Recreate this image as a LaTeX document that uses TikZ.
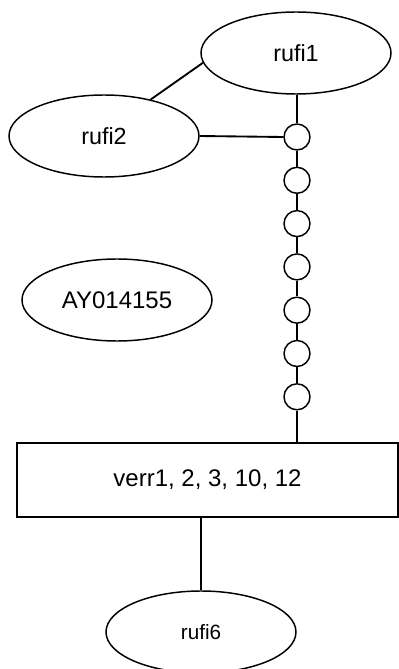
\documentclass[tikz,border=0pt]{standalone}
\usepackage{fontspec}
\setmainfont{Liberation Sans}
\usetikzlibrary{shapes.geometric}

\begin{document}
\begin{tikzpicture}[x=0.75pt,y=0.75pt,line width=1.4pt,
  oval/.style={ellipse,draw,line width=1.1pt,minimum width=142.5pt,
    minimum height=61.5pt,inner sep=0pt,font=\fontsize{17.5}{20}\selectfont},
  bead/.style={circle,draw,line width=1.1pt,minimum size=19.5pt,inner sep=0pt},
  gene/.style={rectangle,draw,line width=1.1pt,minimum width=285.75pt,
    minimum height=55.5pt,inner sep=0pt,font=\fontsize{18}{21}\selectfont}]
  \useasboundingbox (0,0) rectangle (399,669);

  \node[oval] (rufi1) at (296,616) {rufi1};
  \node[oval] (rufi2) at (104,533) {rufi2};
  \node[oval,font=\fontsize{18}{21}\selectfont] (ay) at (117,369) {AY014155};
  \node[gene] (verr) at (207.5,189) {verr1, 2, 3, 10, 12};
  \node[oval,font=\fontsize{15.5}{18}\selectfont] (rufi6) at (201,37) {rufi6};

  % chain of beads
  \foreach \i in {1,...,7}
    \node[bead] (c\i) at (297,{532-43.3*(\i-1)}) {};
  \foreach \i [evaluate=\i as \j using int(\i+1)] in {1,...,6}
    \draw (c\i) -- (c\j);

  \draw (c1.north) -- (c1.north |- rufi1.south);
  \draw (rufi2.east) -- (c1.west);
  \draw (rufi1.186) -- (rufi2.38);
  \draw (c7.south) -- (c7.south |- verr.north);
  \draw (rufi6.north) -- (rufi6.north |- verr.south);
\end{tikzpicture}
\end{document}
